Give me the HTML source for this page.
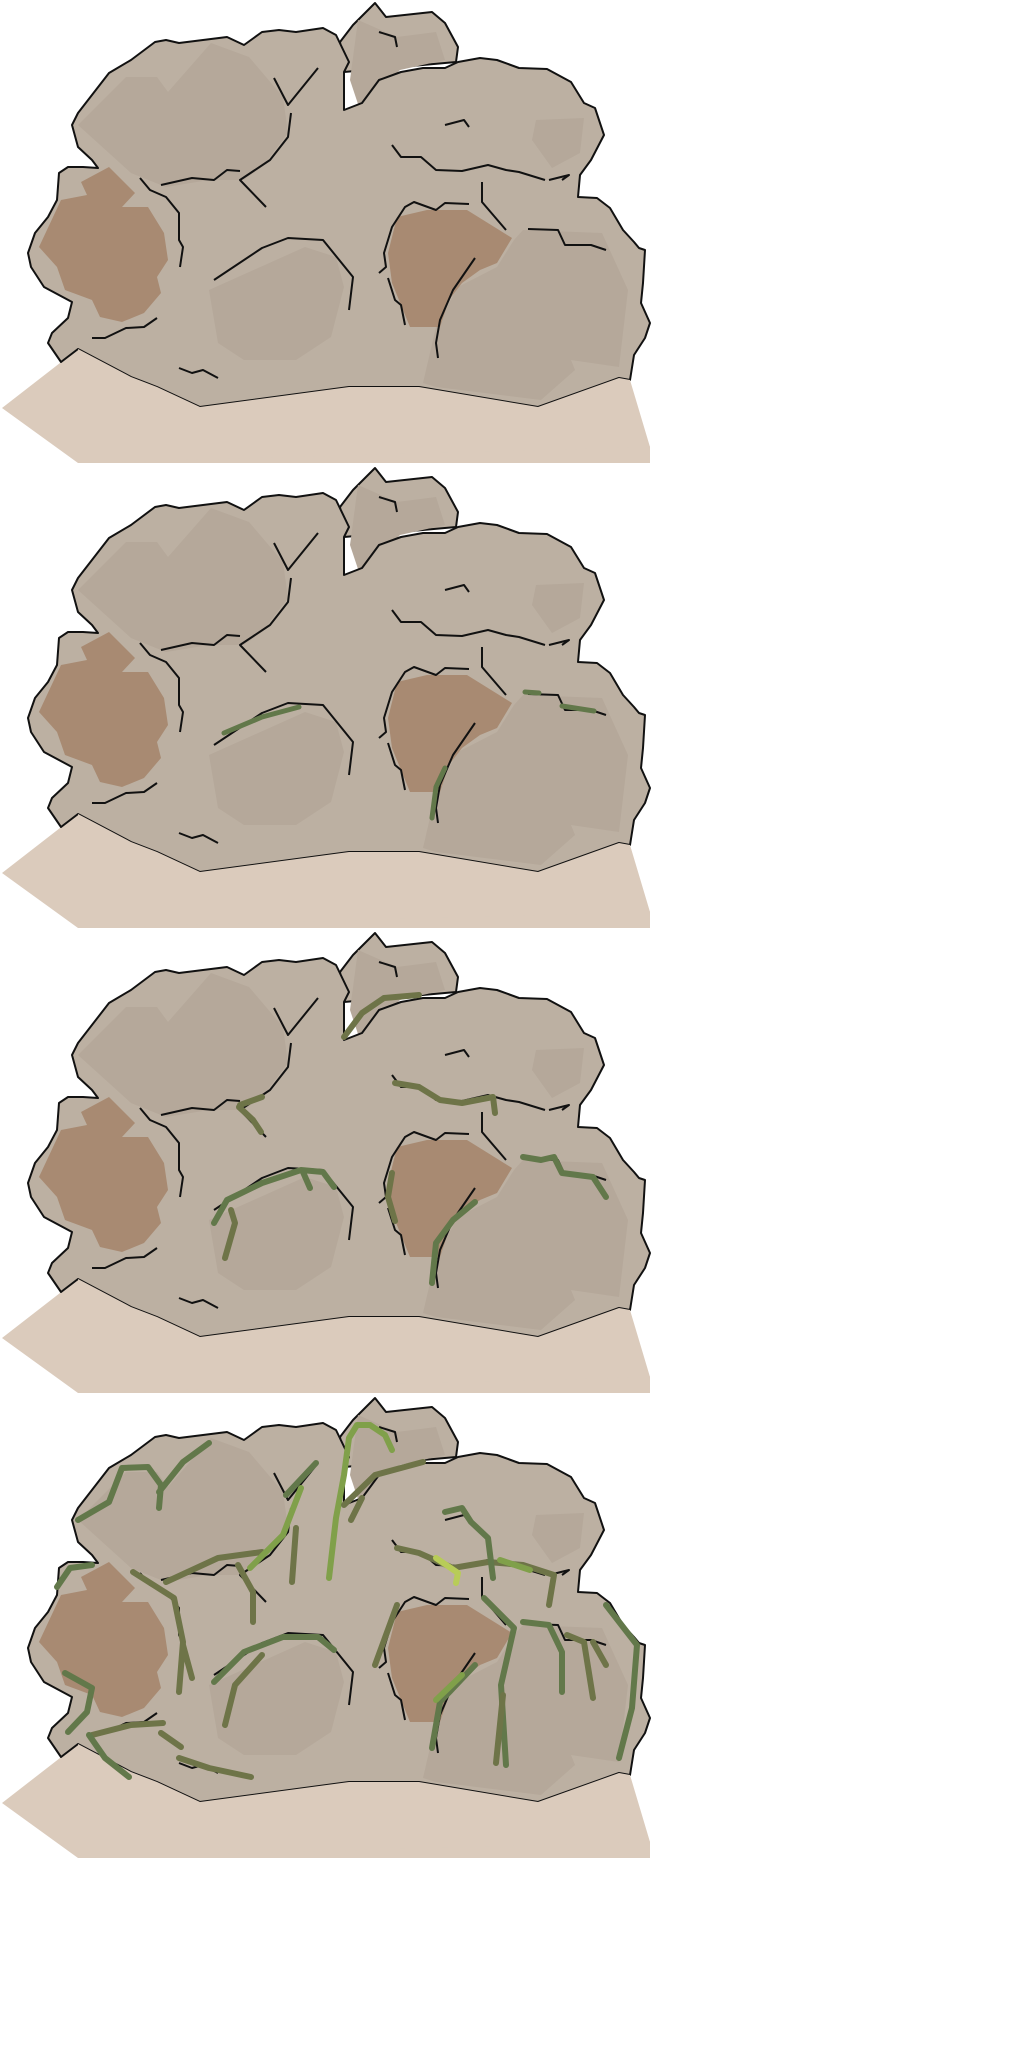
<!DOCTYPE html>
<html><head><meta charset="utf-8"><title>Rock wall vine growth</title>
<style>html,body{margin:0;padding:0;background:#fff;}svg{display:block;}</style></head>
<body>
<svg width="1024" height="2048" viewBox="0 0 1024 2048" xmlns="http://www.w3.org/2000/svg">
<defs>
<g id="rock">
  <polygon fill="#dbcbbc" points="2,408 78,349 131,377 157,387 200,407 349,387 419,387 538,407 619,378 650,447 650,463 78,463"/>
  <path fill="#bcb0a2" stroke="#111" stroke-width="2" stroke-linejoin="round" d="M340,42 L353,25 L375,3 L386,17 L432,12 L445,23 L458,47 L456,62 L344,72 Z"/>
  <polygon fill="#b5a89a" points="358,20 397,37 436,32 445,60 400,70 360,110 350,80"/>
  <path fill="#bcb0a2" stroke="#111" stroke-width="2" stroke-linejoin="round" d="M61,362 L48,343 L52,333 L68,318 L72,302 L44,287 L31,267 L28,253 L35,233 L48,217 L57,200 L59,173 L68,167 L83,167 L98,168 L92,160 L78,147 L72,125 L78,113 L109,73 L131,60 L155,42 L166,40 L179,43 L227,37 L244,45 L262,32 L279,30 L296,32 L323,28 L336,35 L349,62 L344,72 L344,110 L362,103 L379,80 L401,72 L423,68 L445,68 L458,62 L480,58 L497,60 L519,68 L547,69 L571,82 L584,103 L595,108 L604,135 L591,160 L580,175 L578,197 L597,198 L610,208 L623,230 L634,242 L639,248 L645,250 L643,283 L641,303 L650,323 L645,338 L634,355 L630,380 L619,378 L538,407 L419,387 L349,387 L200,407 L157,387 L131,377 L78,349 Z"/>
  <polygon fill="#dbcbbc" points="78,349 131,377 157,387 200,407 349,387 419,387 538,407 619,378 630,380 650,447 78,463"/>
  <g fill="#b5a89a">
    <polygon points="78,125 126,77 157,77 168,92 211,43 249,57 283,97 288,133 262,167 244,180 209,180 166,187 131,173"/>
    <polygon points="536,120 584,118 580,153 552,168 532,140"/>
    <polygon points="209,290 305,247 336,257 344,287 331,337 296,360 244,360 218,343"/>
    <polygon points="514,240 523,230 602,233 628,290 619,367 571,360 575,370 541,400 436,387 423,383 436,327 458,287 497,267"/>
  </g>
  <g fill="#a88a72">
    <polygon points="39,247 61,200 87,195 81,182 109,167 135,193 122,207 148,207 164,233 168,260 157,277 161,293 144,313 122,322 100,317 92,300 65,290 57,267"/>
    <polygon points="397,217 427,210 467,210 512,238 497,263 480,270 462,283 449,300 440,327 410,327 392,283 388,253"/>
  </g>
  <g fill="none" stroke="#111" stroke-width="2" stroke-linejoin="round">
    <polyline points="379,32 395,37 397,47"/>
    <polyline points="274,78 288,105 318,68"/>
    <polyline points="291,113 288,137 270,160 240,180 266,207"/>
    <polyline points="161,185 192,178 214,180 227,170 240,171"/>
    <polyline points="140,178 150,190 166,197 179,213 179,240 183,247 180,267"/>
    <polyline points="445,125 464,120 469,127"/>
    <polyline points="392,145 401,157 421,157 436,170 462,171 488,165 506,170 519,172 545,180"/>
    <polyline points="549,180 569,175 562,180"/>
    <polyline points="482,182 482,202 506,230"/>
    <polyline points="528,229 558,230 565,245 591,245 606,250"/>
    <polyline points="379,273 386,267 384,253 392,227 405,207 414,202 436,210 445,203 469,204"/>
    <polyline points="388,278 395,300 401,305 405,325"/>
    <polyline points="475,258 453,290 440,320 436,343 438,358"/>
    <polyline points="214,280 262,248 288,238 323,240 353,277 349,310"/>
    <polyline points="92,338 105,338 126,328 144,327 157,318"/>
    <polyline points="179,368 192,373 203,370 218,378"/>
  </g>
</g>
</defs>

<g><use href="#rock"/></g>

<g transform="translate(0,465)">
  <use href="#rock"/>
  <g fill="none" stroke="#62784a" stroke-width="5" stroke-linecap="round">
    <polyline points="224,268 262,252 299,242"/>
    <polyline points="525,227 539,228"/>
    <polyline points="562,241 594,246"/>
    <polyline points="432,353 436,322 445,303"/>
  </g>
</g>

<g transform="translate(0,930)">
  <use href="#rock"/>
  <g fill="none" stroke-width="6" stroke-linecap="round" stroke-linejoin="round">
    <polyline stroke="#6e7448" points="344,107 362,83 384,68 419,65"/>
    <polyline stroke="#6e7448" points="240,175 262,167"/>
    <polyline stroke="#6e7448" points="239,177 253,190 261,202"/>
    <polyline stroke="#6e7448" points="395,153 419,157 440,170 462,173 493,167 495,183"/>
    <polyline stroke="#62784a" points="214,293 227,270 262,253 301,240 323,242 334,257"/>
    <polyline stroke="#6e7448" points="231,280 235,293 225,328"/>
    <polyline stroke="#62784a" points="303,242 310,258"/>
    <polyline stroke="#6e7448" points="392,243 388,267 395,291"/>
    <polyline stroke="#62784a" points="432,353 436,313 453,290 475,272"/>
    <polyline stroke="#62784a" points="523,227 541,230 554,227 562,243 593,247 606,267"/>
  </g>
</g>

<g transform="translate(0,1395)">
  <use href="#rock"/>
  <g fill="none" stroke-width="6" stroke-linecap="round" stroke-linejoin="round">
    <polyline stroke="#62784a" points="78,125 109,107 122,73 148,72 161,90 159,113"/>
    <polyline stroke="#62784a" points="159,97 183,67 209,48"/>
    <polyline stroke="#6e7448" points="166,187 218,163 262,157"/>
    <polyline stroke="#80a04a" points="250,173 283,140 301,93"/>
    <polyline stroke="#80a04a" points="329,183 336,123 344,80 349,43 357,30 370,30 385,40 392,55"/>
    <polyline stroke="#6e7448" points="344,110 375,80 423,67"/>
    <polyline stroke="#62784a" points="286,100 316,68"/>
    <polyline stroke="#6e7448" points="292,187 296,133"/>
    <polyline stroke="#6e7448" points="238,170 253,197 253,227"/>
    <polyline stroke="#6e7448" points="133,177 174,203 183,247 179,297"/>
    <polyline stroke="#6e7448" points="183,250 192,283"/>
    <polyline stroke="#62784a" points="57,192 70,173 92,170"/>
    <polyline stroke="#62784a" points="65,278 92,293 87,317 68,337"/>
    <polyline stroke="#6e7448" points="92,340 131,330 163,328"/>
    <polyline stroke="#62784a" points="89,340 105,363 129,382"/>
    <polyline stroke="#6e7448" points="161,338 181,352"/>
    <polyline stroke="#6e7448" points="179,363 209,373 251,382"/>
    <polyline stroke="#62784a" points="214,287 244,257 283,242 318,242 334,255"/>
    <polyline stroke="#6e7448" points="225,330 235,290 262,260"/>
    <polyline stroke="#6e7448" points="375,270 397,210"/>
    <polyline stroke="#62784a" points="432,353 440,307 475,270"/>
    <polyline stroke="#80a04a" points="436,305 462,280"/>
    <polyline stroke="#6e7448" points="397,153 419,158 453,173 488,167 523,170 554,180 549,210"/>
    <polyline stroke="#b8cc58" points="436,163 458,178 456,188"/>
    <polyline stroke="#80a04a" points="500,165 530,175"/>
    <polyline stroke="#62784a" points="445,117 462,113 471,127 488,143 493,183"/>
    <polyline stroke="#62784a" points="484,203 514,233 501,290 506,370"/>
    <polyline stroke="#6e7448" points="496,368 503,300"/>
    <polyline stroke="#62784a" points="523,227 549,230 562,257 562,297"/>
    <polyline stroke="#6e7448" points="567,240 584,247 593,303"/>
    <polyline stroke="#6e7448" points="593,247 606,270"/>
    <polyline stroke="#62784a" points="606,210 637,250 632,313 619,363"/>
    <polyline stroke="#6e7448" points="351,125 362,103"/>
  </g>
</g>
</svg>
</body></html>
